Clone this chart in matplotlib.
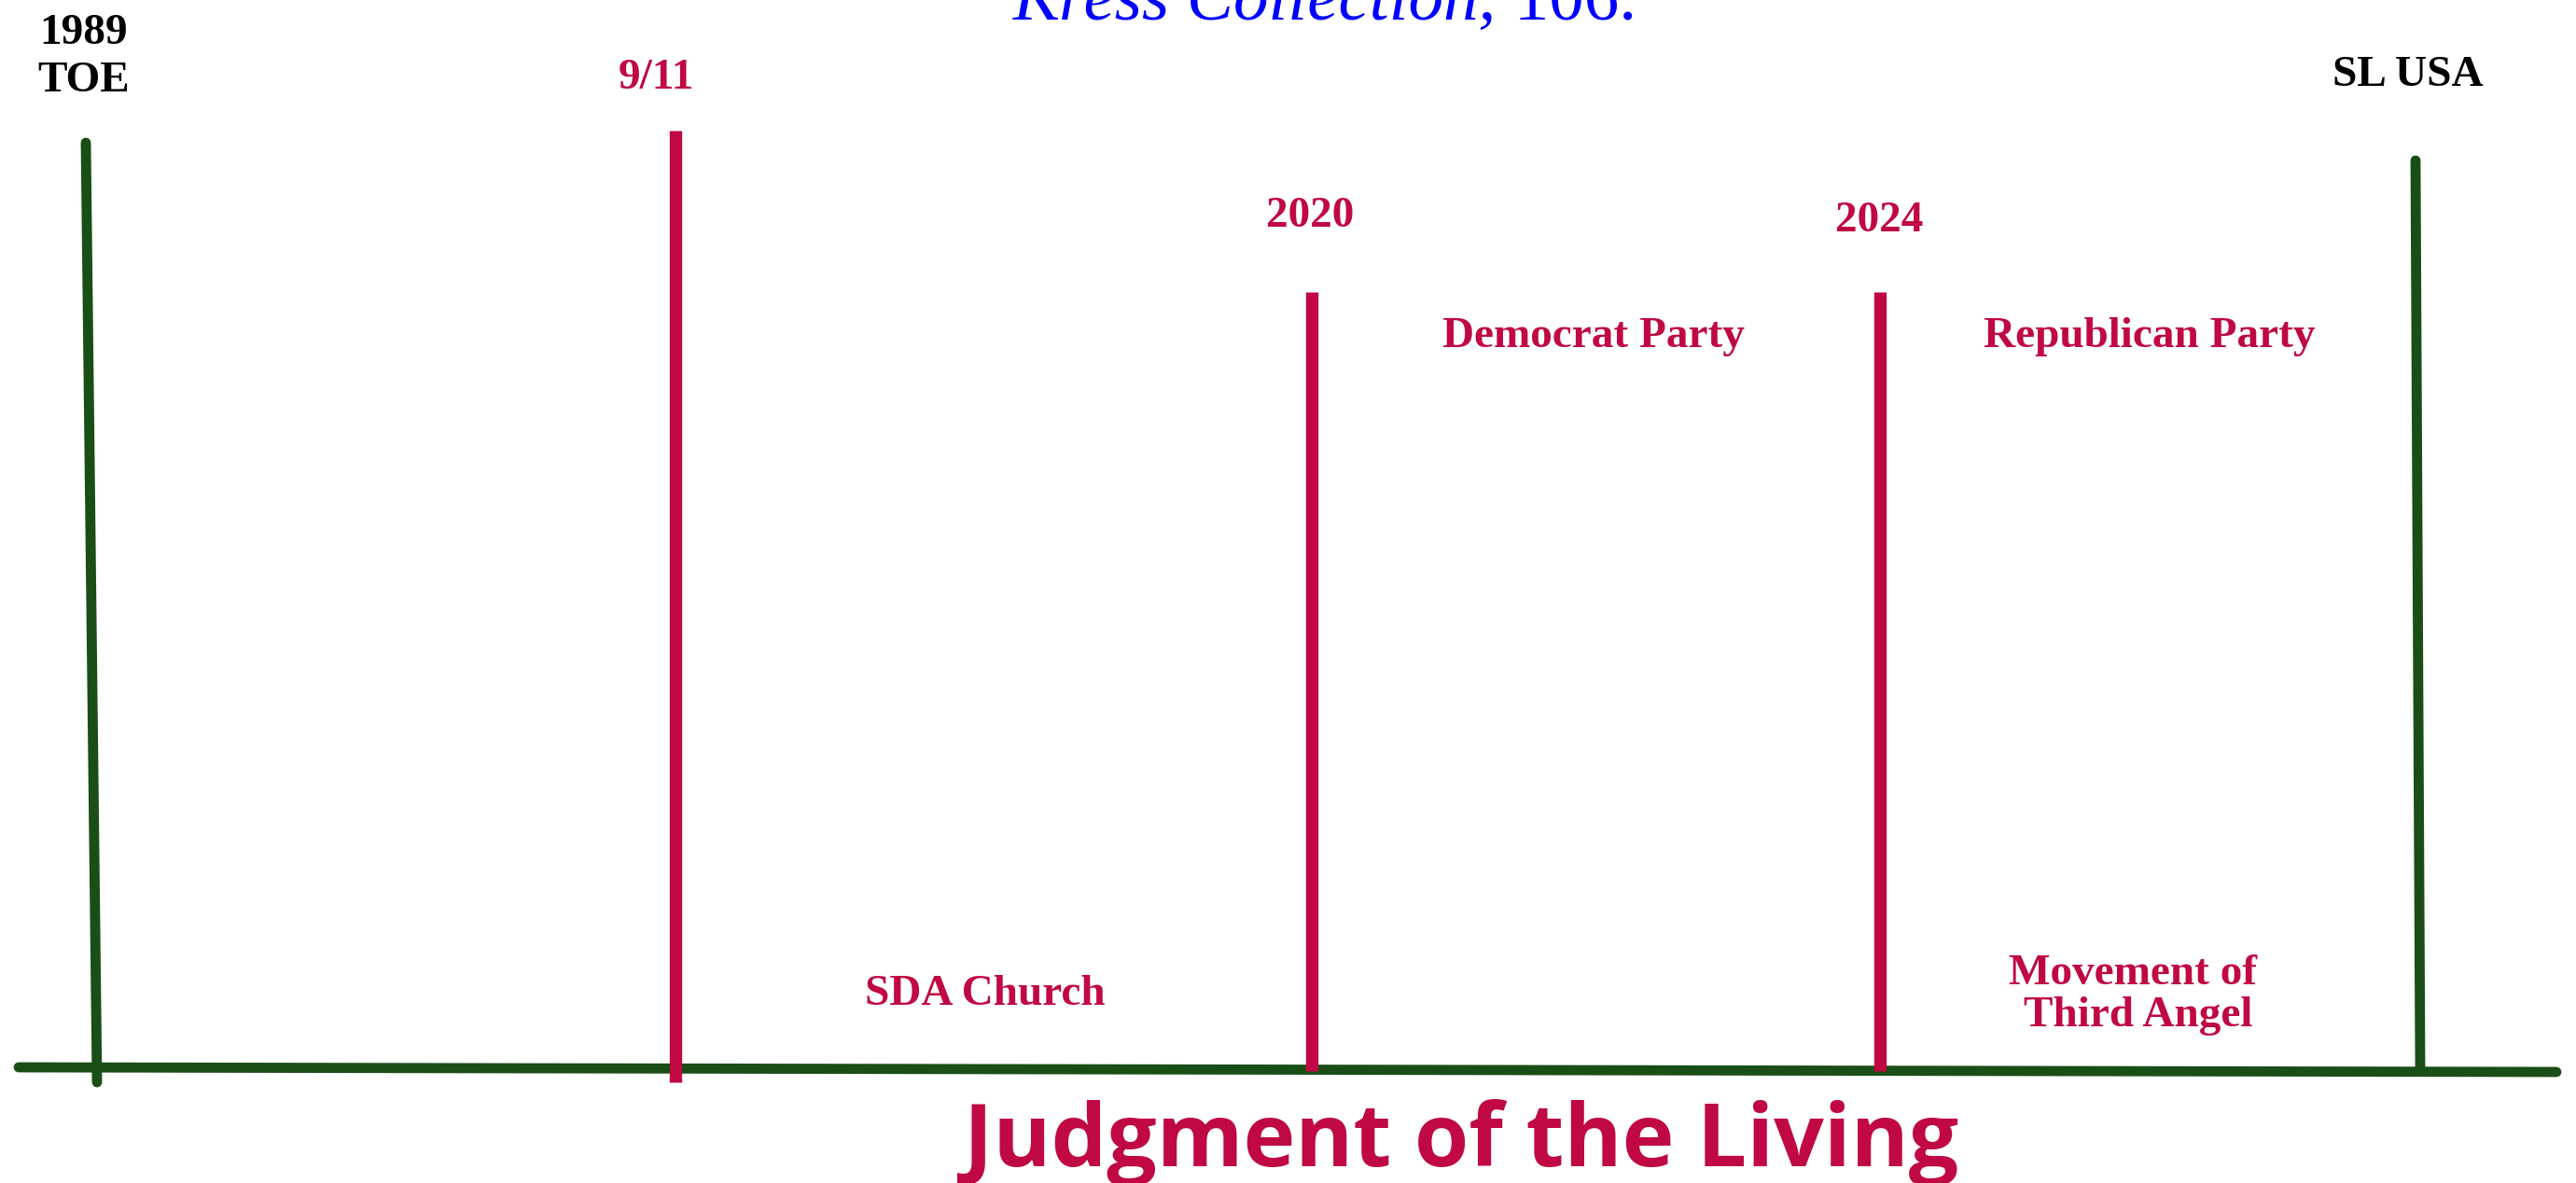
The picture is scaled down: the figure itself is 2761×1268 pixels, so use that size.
import matplotlib.pyplot as plt

# colours
crimson = "#C00842"
green = "#1A4E17"

# timeline events (pixel coordinates of the original drawing)
event_labels = ["9/11", "2020", "2024"]
event_x = [724, 1406, 2015]
event_top = [140, 313, 313]
event_bottom = [1160, 1148, 1148]
event_label_y = [95, 243, 248]
event_label_x = [703, 1404, 2014]

# green frame: left post, right post, ground line
left_post = ([92, 104], [153, 1160])
right_post = ([2589, 2594], [172, 1146])
ground = ([20, 2740], [1144, 1149])

# period labels
period_labels = ["Democrat Party", "Republican Party", "SDA Church",
                 "Movement of", "Third Angel"]
period_x = [1708, 2304, 1056, 2286, 2292]
period_y = [372, 372, 1077, 1055, 1100]

fig = plt.figure(figsize=(27.61, 12.68), dpi=100)
ax = fig.add_axes([0, 0, 1, 1])
ax.set_xlim(0, 2761)
ax.set_ylim(1268, 0)
ax.axis("off")

serif = "Liberation Serif"

# green lines
for xs, ys in [left_post, right_post, ground]:
    ax.plot(xs, ys, color=green, linewidth=7.8, solid_capstyle="round", zorder=2)

# crimson event lines
for x, top, bot in zip(event_x, event_top, event_bottom):
    ax.plot([x, x], [top, bot], color=crimson,
            linewidth=9.6, solid_capstyle="butt", zorder=3)

for lab, x, y in zip(event_labels, event_label_x, event_label_y):
    ax.text(x, y, lab, color=crimson, fontsize=34, fontweight="bold",
            family=serif, ha="center", va="baseline")

# black end labels
ax.text(90, 47, "1989", color="black", fontsize=34, fontweight="bold",
        family=serif, ha="center", va="baseline")
ax.text(90, 98, "TOE", color="black", fontsize=34, fontweight="bold",
        family=serif, ha="center", va="baseline")
ax.text(2581, 92, "SL USA", color="black", fontsize=34, fontweight="bold",
        family=serif, ha="center", va="baseline")

for lab, x, y in zip(period_labels, period_x, period_y):
    ax.text(x, y, lab, color=crimson, fontsize=34, fontweight="bold",
            family=serif, ha="center", va="baseline")

# cut-off reference at the top
ax.text(1604, 21, "Kress Collection,", color="#0000FF", fontsize=54,
        style="italic", family=serif, ha="right", va="baseline")
ax.text(1604, 21, " 106.", color="#0000FF", fontsize=54,
        family=serif, ha="left", va="baseline")

# bottom title
ax.text(1566, 1250, "Judgment of the Living", color=crimson, fontsize=68,
        fontweight="bold", family="Open Sans", ha="center", va="baseline")

plt.savefig("out.png", dpi=100)
